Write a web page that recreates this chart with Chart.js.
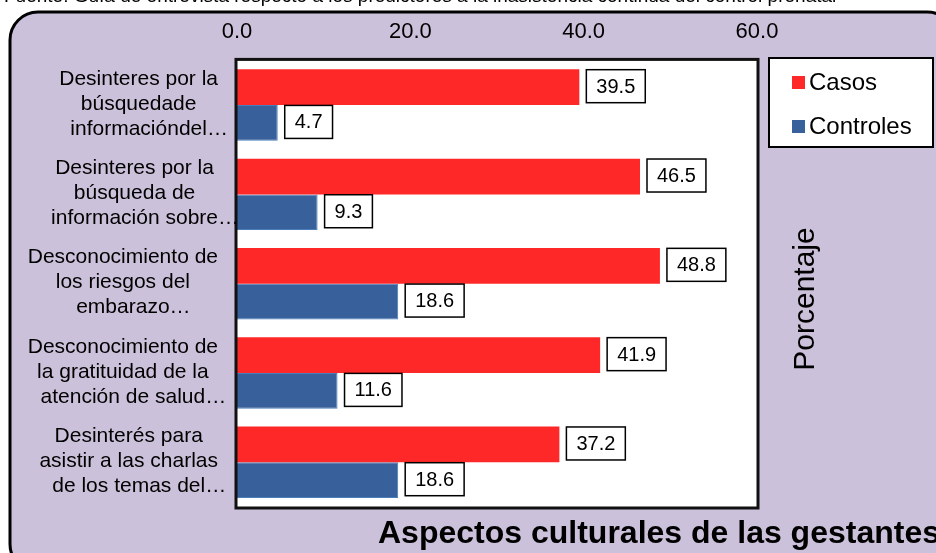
<!DOCTYPE html>
<html>
<head>
<meta charset="utf-8">
<script src="https://cdn.jsdelivr.net/npm/chart.js@4.4.1/dist/chart.umd.min.js"></script>
<style>
  html, body { margin: 0; padding: 0; background: #fff; }
  #wrap { width: 936px; height: 553px; }
</style>
</head>
<body>
<div id="wrap"><canvas id="chart" width="936" height="553"></canvas></div>
<script>
const categories = [
  ['Desinteres por la', 'búsquedade', 'informacióndel…'],
  ['Desinteres por la', 'búsqueda de', 'información sobre…'],
  ['Desconocimiento de', 'los riesgos del', 'embarazo…'],
  ['Desconocimiento de', 'la gratituidad de la', 'atención de salud…'],
  ['Desinterés para', 'asistir a las charlas', 'de los temas del…']
]
const casos = [39.5, 46.5, 48.8, 41.9, 37.2]
const controles = [4.7, 9.3, 18.6, 11.6, 18.6]
const xTicks = [0, 20, 40, 60]
const sourceText = 'Fuente: Guía de entrevista respecto a los predictores a la inasistencia continua del control prenatal'
const axisTitle = 'Porcentaje'
const chartTitle = 'Aspectos culturales de las gestantes'

const FONT = '"Liberation Sans", Arial, sans-serif'

const framePlugin = {
  id: 'frame',
  beforeDraw(chart) {
    const ctx = chart.ctx
    ctx.save()
    ctx.fillStyle = '#fff'
    ctx.fillRect(0, 0, chart.width, chart.height)
    // clipped source line at the very top
    ctx.fillStyle = '#000'
    ctx.font = '19px ' + FONT
    ctx.textBaseline = 'alphabetic'
    ctx.fillText(sourceText, 4, 2)
    // lavender rounded frame
    ctx.beginPath()
    ctx.roundRect(10, 12, 945, 560, 28)
    ctx.fillStyle = '#CCC1DA'
    ctx.fill()
    ctx.lineWidth = 3
    ctx.strokeStyle = '#000'
    ctx.stroke()
    // white plot area
    const a = chart.chartArea
    ctx.fillStyle = '#fff'
    ctx.fillRect(a.left, a.top, a.right - a.left, a.bottom - a.top)
    ctx.restore()
  },
  afterDraw(chart) {
    const ctx = chart.ctx
    const a = chart.chartArea
    const y = chart.scales.y
    ctx.save()
    // plot border
    ctx.lineWidth = 3
    ctx.strokeStyle = '#111'
    ctx.strokeRect(a.left - 1, a.top - 1, a.right - a.left + 2, a.bottom - a.top + 2)

    // category labels, centred per block
    ctx.fillStyle = '#000'
    ctx.font = '21px ' + FONT
    ctx.textBaseline = 'middle'
    ctx.textAlign = 'left'
    categories.forEach((lines, i) => {
      const yc = y.getPixelForValue(i) - 1
      const bare = lines.map(l => l.replace(/…$/, ''))
      const W = Math.max(...bare.map(l => ctx.measureText(l).width))
      const c = a.left - 19 - W / 2
      lines.forEach((l, j) => {
        const w = ctx.measureText(bare[j]).width
        ctx.fillText(l, c - w / 2, yc + (j - (lines.length - 1) / 2) * 25)
      })
    })

    // legend box
    const lx = 769, ly = 58, lw = 164, lh = 89
    ctx.fillStyle = '#fff'
    ctx.fillRect(lx, ly, lw, lh)
    ctx.lineWidth = 2
    ctx.strokeStyle = '#000'
    ctx.strokeRect(lx, ly, lw, lh)
    ctx.font = '24px ' + FONT
    chart.data.datasets.forEach((ds, i) => {
      const cy = ly + 24 + i * 44
      ctx.fillStyle = ds.backgroundColor
      ctx.fillRect(lx + 23, cy - 6, 13, 13)
      ctx.fillStyle = '#000'
      ctx.fillText(ds.label, lx + 40, cy + 1)
    })

    // rotated axis title
    ctx.save()
    ctx.translate(806, 299)
    ctx.rotate(-Math.PI / 2)
    ctx.textAlign = 'center'
    ctx.font = '30px ' + FONT
    ctx.fillText(axisTitle, 0, 0)
    ctx.restore()

    // bottom title
    ctx.textBaseline = 'alphabetic'
    ctx.font = 'bold 32px ' + FONT
    ctx.fillText(chartTitle, 378, 543)
    ctx.restore()
  }
}

const valueLabels = {
  id: 'valueLabels',
  afterDatasetsDraw(chart) {
    const ctx = chart.ctx
    ctx.save()
    ctx.font = '20px ' + FONT
    ctx.textBaseline = 'middle'
    ctx.textAlign = 'center'
    chart.data.datasets.forEach((ds, di) => {
      chart.getDatasetMeta(di).data.forEach((bar, i) => {
        const txt = ds.data[i].toFixed(1)
        const w = ctx.measureText(txt).width + 20
        const h = 33
        const bx = bar.x + 7
        const by = bar.y - h / 2 - 1
        ctx.fillStyle = '#fff'
        ctx.fillRect(bx, by, w, h)
        ctx.lineWidth = 1.5
        ctx.strokeStyle = '#000'
        ctx.strokeRect(bx, by, w, h)
        ctx.fillStyle = '#000'
        ctx.fillText(txt, bx + w / 2, by + h / 2 + 1)
      })
    })
    ctx.restore()
  }
}

new Chart(document.getElementById('chart').getContext('2d'), {
  type: 'bar',
  data: {
    labels: categories,
    datasets: [
      {
        label: 'Casos',
        data: casos,
        backgroundColor: '#FF2828',
        borderColor: '#FF2828',
        borderWidth: 0
      },
      {
        label: 'Controles',
        data: controles,
        backgroundColor: '#38609A',
        borderColor: '#4A7EBB',
        borderWidth: 1
      }
    ]
  },
  options: {
    indexAxis: 'y',
    responsive: false,
    devicePixelRatio: 1,
    animation: false,
    datasets: {
      bar: { categoryPercentage: 0.8, barPercentage: 1.0 }
    },
    layout: {
      padding: { left: 237, right: 179, top: 4, bottom: 46 }
    },
    scales: {
      x: {
        type: 'linear',
        position: 'top',
        min: 0,
        max: 60,
        afterBuildTicks: s => { s.ticks = xTicks.map(v => ({ value: v })) },
        ticks: {
          callback: v => Number(v).toFixed(1),
          color: '#000',
          font: { family: FONT, size: 22 },
          padding: 15
        },
        grid: { display: false, drawTicks: false },
        border: { display: false }
      },
      y: {
        display: false
      }
    },
    plugins: {
      legend: { display: false },
      tooltip: { enabled: false }
    }
  },
  plugins: [framePlugin, valueLabels]
})
</script>
</body>
</html>
